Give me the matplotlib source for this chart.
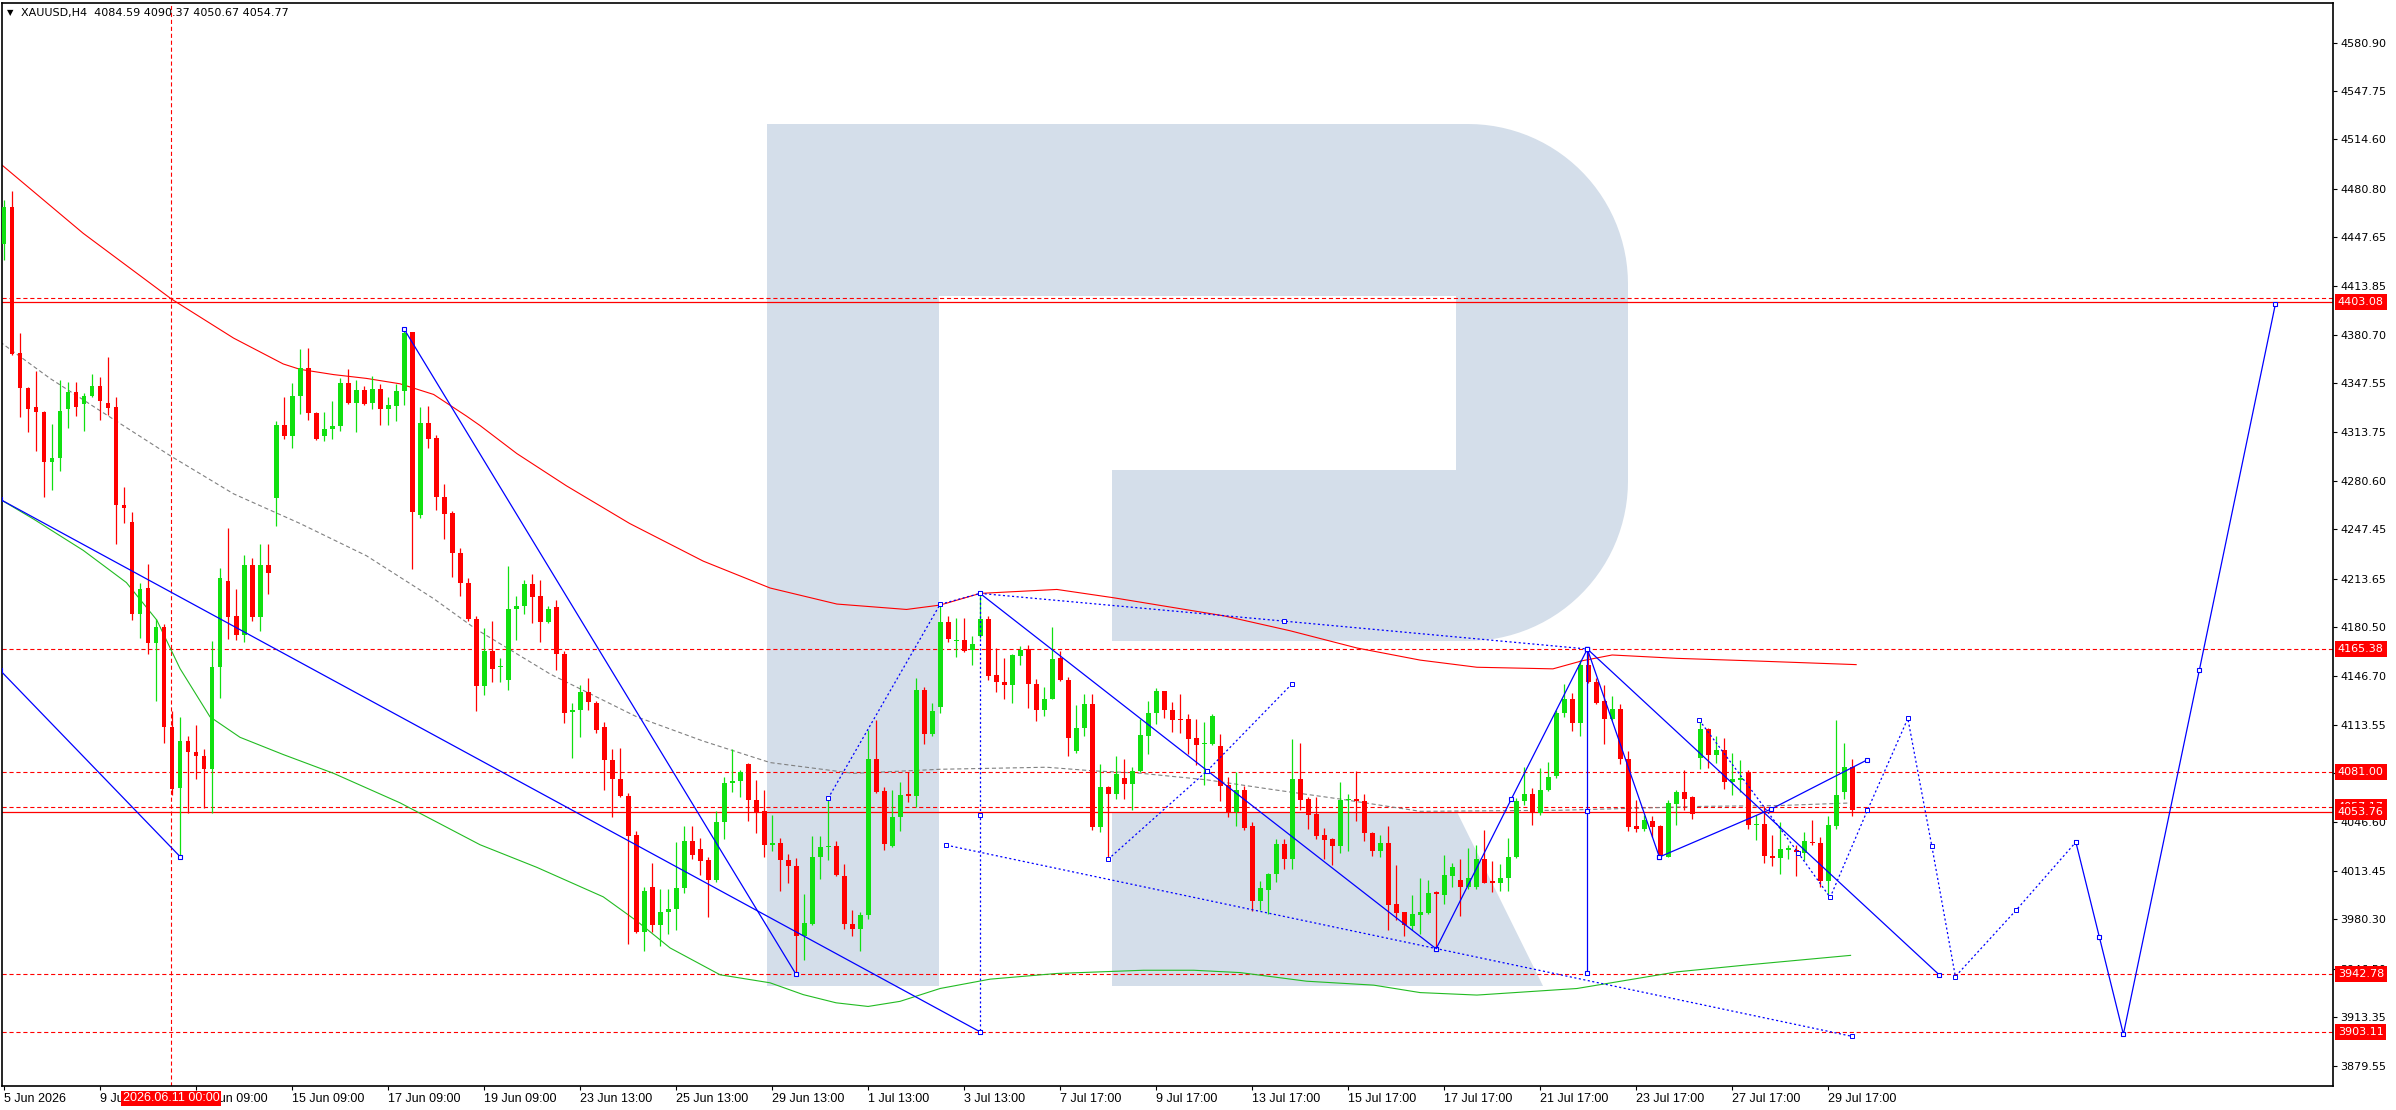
import numpy as np
import matplotlib
matplotlib.use("Agg")
import matplotlib.pyplot as plt
from matplotlib.patches import Polygon
from matplotlib.transforms import blended_transform_factory

plt.rcParams['lines.scale_dashes'] = False

# ---- H4 candles XAUUSD ----
opens = [4442.8, 4467.9, 4368.5, 4344.2, 4331.3, 4328.0, 4293.8, 4296.3, 4329.5, 4341.6,
         4333.1, 4339.0, 4345.7, 4334.2, 4331.3, 4264.3, 4252.2, 4189.6, 4207.3, 4169.7,
         4180.8, 4112.3, 4070.3, 4102.3, 4095.0, 4092.0, 4083.2, 4152.8, 4212.0, 4187.7,
         4174.9, 4223.1, 4187.0, 4222.7, 4269.1, 4318.8, 4311.4, 4339.0, 4358.2, 4326.9,
         4311.1, 4315.8, 4318.4, 4347.9, 4334.2, 4342.7, 4334.2, 4343.5, 4329.5, 4331.7,
         4342.3, 4382.8, 4256.9, 4320.3, 4310.3, 4269.8, 4258.8, 4231.2, 4210.9, 4186.3,
         4139.9, 4163.8, 4153.1, 4143.9, 4192.5, 4195.1, 4209.8, 4201.7, 4184.1, 4194.4,
         4162.3, 4121.9, 4123.3, 4136.2, 4128.1, 4112.3, 4089.5, 4076.6, 4064.4, 4037.9,
         3971.7, 4002.6, 3976.1, 3985.3, 3987.5, 4001.9, 4034.2, 4028.7, 4020.6, 4007.4,
         4047.1, 4073.6, 4074.7, 4086.9, 4061.9, 4054.5, 4031.3, 4032.4, 4020.6, 4016.6,
         3969.1, 3977.2, 4023.2, 4029.8, 4030.5, 4009.6, 3977.2, 3973.5, 3983.4, 4090.2,
         4068.1, 4030.5, 4050.1, 4066.3, 4064.8, 4137.3, 4107.1, 4125.5, 4184.1, 4171.0,
         4171.7, 4164.7, 4174.5, 4186.3, 4147.7, 4143.1, 4140.4, 4160.8, 4165.4, 4141.6,
         4123.4, 4131.3, 4159.0, 4144.5, 4095.5, 4111.4, 4127.9, 4043.3, 4070.8, 4066.0,
         4076.9, 4072.8, 4081.9, 4105.9, 4121.6, 4136.3, 4123.9, 4117.1, 4117.3, 4104.1,
         4100.0, 4100.3, 4098.9, 4072.4, 4053.8, 4068.5, 4044.0, 3993.0, 4000.2, 4011.1,
         4031.5, 4021.3, 4076.4, 4062.8, 4052.6, 4037.7, 4034.9, 4030.4, 4061.7, 4062.8,
         4061.5, 4039.5, 4027.0, 4032.2, 3990.7, 3985.0, 3975.3, 3983.2, 3984.6, 3998.6,
         3997.0, 4010.0, 4007.3, 4002.0, 4002.0, 4021.3, 4006.6, 4005.0, 4008.4, 4023.1,
         4061.5, 4066.2, 4053.1, 4068.5, 4078.5, 4121.6, 4131.3, 4114.8, 4154.7, 4143.1,
         4129.5, 4117.3, 4124.1, 4090.1, 4044.0, 4042.2, 4047.9, 4044.0, 4023.1, 4059.4,
         4067.4, 4063.7, 4091.0, 4110.5, 4092.8, 4096.2, 4074.0, 4075.8, 4080.8, 4045.1,
         4045.6, 4023.6, 4022.0, 4027.7, 4027.4, 4025.9, 4033.3, 4032.7, 4006.6, 4044.0,
         4067.1, 4084.59]
highs = [4473.0, 4478.9, 4382.1, 4345.0, 4355.6, 4328.7, 4319.5, 4349.7, 4348.6, 4348.6,
         4340.9, 4354.1, 4351.5, 4365.5, 4337.9, 4276.5, 4259.5, 4210.9, 4223.8, 4186.3,
         4182.2, 4122.6, 4118.9, 4106.0, 4113.4, 4096.8, 4171.2, 4221.2, 4248.5, 4206.5,
         4230.1, 4227.5, 4237.4, 4237.4, 4321.4, 4337.9, 4347.9, 4371.1, 4371.8, 4327.6,
         4328.0, 4335.4, 4350.8, 4357.4, 4349.7, 4345.3, 4352.7, 4347.1, 4337.9, 4347.1,
         4384.7, 4382.8, 4331.3, 4331.7, 4312.2, 4278.3, 4259.9, 4234.9, 4213.9, 4187.7,
         4179.6, 4184.4, 4159.4, 4222.0, 4201.7, 4212.8, 4216.5, 4212.8, 4195.1, 4199.2,
         4164.2, 4128.1, 4141.0, 4145.8, 4130.0, 4115.2, 4096.8, 4097.6, 4066.6, 4040.9,
         4002.2, 4018.8, 4001.1, 4001.1, 4033.5, 4044.2, 4044.2, 4036.1, 4023.2, 4054.5,
         4077.7, 4096.8, 4082.8, 4087.6, 4075.5, 4068.5, 4051.9, 4036.1, 4025.0, 4022.5,
         3997.4, 4037.2, 4037.2, 4063.0, 4034.2, 4018.4, 3986.4, 3985.3, 4109.7, 4117.1,
         4071.1, 4068.5, 4074.0, 4081.0, 4145.4, 4139.2, 4128.1, 4196.2, 4188.1, 4186.9,
         4186.9, 4174.5, 4203.5, 4188.1, 4166.1, 4159.3, 4162.0, 4167.6, 4168.3, 4144.9,
         4139.7, 4180.6, 4164.2, 4146.1, 4126.8, 4134.3, 4134.3, 4086.7, 4071.2, 4092.1,
         4089.8, 4084.8, 4117.7, 4129.5, 4138.6, 4136.8, 4129.1, 4134.8, 4120.7, 4117.7,
         4115.5, 4120.7, 4107.1, 4077.6, 4080.8, 4071.2, 4046.9, 4006.6, 4012.2, 4034.9,
         4034.9, 4103.7, 4101.2, 4064.0, 4064.0, 4042.9, 4036.1, 4074.6, 4066.0, 4081.9,
         4066.2, 4040.1, 4038.3, 4044.0, 4017.2, 3985.5, 3996.8, 4008.8, 4007.3, 3999.8,
         4024.0, 4019.0, 4021.3, 4028.8, 4030.9, 4041.3, 4020.2, 4017.9, 4036.1, 4063.3,
         4084.4, 4070.1, 4083.7, 4087.8, 4123.4, 4141.6, 4135.4, 4158.1, 4165.4, 4145.4,
         4140.9, 4132.9, 4128.0, 4095.5, 4062.2, 4051.9, 4051.3, 4044.5, 4061.7, 4069.0,
         4082.6, 4064.9, 4117.3, 4111.4, 4105.9, 4104.1, 4093.9, 4089.4, 4082.6, 4051.5,
         4057.6, 4038.3, 4047.0, 4031.1, 4030.9, 4039.9, 4048.5, 4036.5, 4051.3, 4116.6,
         4101.2, 4090.37]
lows = [4431.8, 4366.5, 4324.3, 4314.0, 4301.1, 4269.8, 4274.6, 4287.5, 4316.6, 4325.0,
        4315.1, 4337.9, 4322.5, 4325.8, 4237.4, 4251.4, 4185.2, 4173.0, 4162.3, 4130.0,
        4101.2, 4065.5, 4023.2, 4052.7, 4076.6, 4056.3, 4052.7, 4131.8, 4172.3, 4171.5,
        4170.4, 4184.4, 4177.8, 4202.8, 4249.6, 4309.2, 4303.0, 4326.2, 4322.5, 4308.5,
        4307.7, 4309.6, 4315.1, 4333.5, 4314.0, 4332.4, 4329.8, 4318.8, 4318.8, 4321.4,
        4332.4, 4220.1, 4255.1, 4303.0, 4260.6, 4241.1, 4214.6, 4201.7, 4184.4, 4122.6,
        4133.6, 4142.8, 4142.8, 4137.3, 4171.5, 4189.6, 4183.3, 4170.4, 4183.0, 4151.3,
        4114.5, 4090.6, 4105.3, 4123.3, 4107.9, 4068.5, 4050.1, 4063.7, 3963.6, 3970.5,
        3958.8, 3971.7, 3961.7, 3969.8, 3972.8, 3998.5, 4021.4, 4010.3, 3982.0, 4005.9,
        4035.4, 4067.4, 4063.7, 4047.9, 4039.0, 4023.2, 4026.9, 3999.3, 4004.8, 3942.2,
        3952.2, 3976.4, 4007.7, 4020.6, 4009.6, 3973.5, 3968.7, 3958.8, 3980.1, 4066.6,
        4028.0, 4029.8, 4040.9, 4060.8, 4057.1, 4100.5, 4106.0, 4121.5, 4170.4, 4159.7,
        4163.1, 4154.7, 4172.9, 4144.5, 4135.9, 4131.3, 4128.4, 4154.7, 4125.0, 4116.1,
        4119.3, 4130.9, 4143.8, 4092.1, 4093.9, 4105.9, 4041.3, 4039.9, 4022.9, 4062.6,
        4062.6, 4054.9, 4081.4, 4093.2, 4114.3, 4118.4, 4108.7, 4108.0, 4093.5, 4086.0,
        4072.4, 4099.6, 4061.0, 4050.1, 4044.0, 4041.7, 3986.2, 3986.6, 3983.9, 4005.9,
        4014.5, 4014.5, 4054.9, 4042.2, 4035.4, 4021.3, 4017.2, 4025.9, 4027.0, 4047.4,
        4033.8, 4023.6, 4022.9, 3973.2, 3980.0, 3969.1, 3973.2, 3970.3, 3983.9, 3960.5,
        3990.7, 4002.0, 3982.8, 4000.9, 4000.9, 4005.0, 3998.6, 3999.8, 3999.8, 4022.0,
        4058.8, 4044.7, 4051.9, 4067.8, 4076.9, 4118.9, 4109.1, 4105.9, 4142.2, 4128.0,
        4100.3, 4116.6, 4086.4, 4040.6, 4039.9, 4040.6, 4036.5, 4022.5, 4022.9, 4044.7,
        4055.4, 4049.2, 4083.3, 4084.2, 4087.1, 4069.4, 4065.1, 4067.4, 4042.4, 4034.5,
        4018.6, 4016.8, 4011.1, 4021.3, 4010.0, 4020.9, 4030.9, 4002.0, 3997.5, 4042.4,
        4062.8, 4050.67]
closes = [4467.9, 4367.4, 4344.2, 4329.5, 4327.6, 4293.8, 4296.3, 4328.7, 4341.6, 4331.3,
          4339.0, 4345.7, 4335.0, 4330.6, 4264.3, 4261.7, 4189.6, 4206.5, 4169.7, 4180.8,
          4112.3, 4069.2, 4102.3, 4095.0, 4092.0, 4083.2, 4152.8, 4213.9, 4187.0, 4174.9,
          4223.1, 4187.0, 4222.7, 4217.2, 4318.8, 4311.4, 4339.0, 4358.2, 4326.9, 4309.6,
          4315.8, 4318.4, 4347.9, 4334.2, 4342.7, 4333.1, 4343.5, 4329.5, 4332.4, 4342.3,
          4382.1, 4259.5, 4320.3, 4309.6, 4269.8, 4258.0, 4231.2, 4210.9, 4185.9, 4139.9,
          4163.8, 4152.0, 4153.9, 4192.5, 4195.1, 4209.8, 4201.0, 4184.1, 4192.5, 4162.0,
          4121.5, 4123.3, 4136.2, 4128.8, 4109.7, 4089.5, 4076.6, 4064.4, 4037.2, 3971.7,
          3999.3, 3976.1, 3985.3, 3987.5, 4001.9, 4034.2, 4024.3, 4020.3, 4007.4, 4047.1,
          4073.6, 4074.7, 4081.4, 4061.9, 4053.8, 4031.3, 4032.4, 4020.6, 4016.6, 3969.1,
          3977.9, 4023.2, 4029.8, 4030.5, 4010.3, 3977.2, 3973.5, 3983.4, 4090.2, 4067.4,
          4031.7, 4050.1, 4065.5, 4064.8, 4137.3, 4107.1, 4122.6, 4184.1, 4172.3, 4171.7,
          4164.2, 4168.8, 4186.3, 4147.2, 4142.7, 4140.4, 4161.3, 4164.9, 4141.1, 4123.4,
          4131.3, 4158.6, 4144.3, 4104.6, 4111.6, 4127.9, 4043.3, 4070.8, 4066.0, 4079.9,
          4072.8, 4081.9, 4106.4, 4121.8, 4136.3, 4123.9, 4116.6, 4116.6, 4103.7, 4099.6,
          4100.7, 4119.3, 4071.7, 4053.8, 4068.5, 4042.9, 3993.0, 4001.4, 4011.1, 4031.5,
          4021.3, 4076.4, 4062.2, 4052.0, 4037.2, 4034.5, 4030.4, 4062.2, 4062.8, 4061.0,
          4039.0, 4027.0, 4032.2, 3990.2, 3984.6, 3976.0, 3983.9, 3985.0, 3997.9, 3997.5,
          4010.4, 4016.3, 4002.0, 4008.8, 4021.3, 4005.4, 4005.4, 4008.2, 4023.1, 4061.5,
          4066.2, 4053.1, 4069.0, 4077.6, 4121.8, 4130.9, 4115.0, 4154.7, 4142.7, 4128.6,
          4117.3, 4124.1, 4089.8, 4043.3, 4042.2, 4048.5, 4043.3, 4024.0, 4059.9, 4067.4,
          4062.8, 4052.6, 4110.5, 4092.8, 4096.2, 4074.0, 4076.5, 4076.9, 4045.1, 4045.6,
          4023.6, 4022.5, 4028.1, 4028.8, 4026.3, 4033.8, 4032.2, 4006.6, 4044.5, 4065.6,
          4084.4, 4054.77]

# ---- moving averages (bar index, price) ----
red_ma_bars = [-0.5, 9.9, 20.9, 28.7, 34.9, 37.0, 41.2, 45.3, 49.5, 53.7, 57.8, 59.5, 64.1,
               70.3, 78.2, 87.4, 95.75, 104.1, 112.8, 117, 122, 131.6, 138.7, 152.5, 160.75,
               169.1, 177, 184.1, 193.6, 197.3, 201, 209.1, 217.9, 231.5]
red_ma_vals = [4498.1, 4450.2, 4405.3, 4378.4, 4360.7, 4357.0, 4353.4, 4350.8, 4347.1, 4339.8,
               4325.0, 4318.5, 4299.3, 4277.2, 4251.4, 4225.6, 4207.2, 4196.2, 4192.5, 4195.5,
               4203.5, 4206.2, 4200.5, 4188.1, 4177.9, 4166.1, 4157.8, 4152.9, 4151.8, 4157.4,
               4161.3, 4159.0, 4157.4, 4154.7]
green_ma_bars = [-0.5, 3.7, 9.9, 15.3, 19.1, 22, 25.75, 29.5, 34.9, 41.2, 49.5, 59.5, 66.6,
                 74.9, 79.1, 83.25, 89.5, 95.75, 99.9, 104, 108, 112, 117, 123.25, 131.6,
                 142.4, 148.7, 154.5, 162.8, 171.2, 177, 184.1, 196.6, 209.1, 217.4, 230.8]
green_ma_vals = [4268.0, 4254.4, 4233.0, 4210.9, 4185.2, 4152.0, 4118.9, 4104.9, 4093.1, 4080.2,
                 4060.0, 4031.3, 4015.8, 3995.6, 3979.0, 3960.6, 3942.2, 3936.7, 3928.6, 3923.0,
                 3920.5, 3924.0, 3932.8, 3939.2, 3943.1, 3945.3, 3945.3, 3943.7, 3937.8, 3935.1,
                 3930.0, 3928.3, 3932.8, 3944.2, 3948.7, 3955.5]
gray_ma_bars = [-0.5, 5.75, 12, 20.9, 28.7, 37, 45.3, 53.7, 59, 68.25, 79.1, 87.4, 95.75, 106.2,
                117, 130.3, 136.2, 142, 150.3, 158.7, 167, 177, 194.5, 212.3, 221.6, 230.75]
gray_ma_vals = [4375.8, 4350.8, 4328.7, 4297.4, 4271.7, 4251.4, 4229.3, 4199.9, 4179.0, 4148.3,
                4118.9, 4102.3, 4087.6, 4080.2, 4083.0, 4084.4, 4081.9, 4080.3, 4075.8, 4069.0,
                4062.6, 4054.2, 4054.9, 4057.6, 4058.1, 4059.9]

# ---- analyst drawings (bar index, price) ----
solid_paths = [
    ([-0.5, 122], [4268.0, 3903.11]),
    ([-0.5, 22], [4150.9, 4023.2]),
    ([50, 99], [4384.7, 3942.5]),
    ([122, 150.4, 179], [4203.5, 4082.0, 3960.0]),
    ([179, 188.4, 197.9], [3960.0, 4062.6, 4165.4]),
    ([197.9, 197.9, 197.9], [4165.4, 4054.7, 3943.1]),
    ([197.9, 206.9], [4165.4, 4022.9]),
    ([206.9, 220.9, 232.9], [4022.9, 4055.8, 4089.5]),
    ([197.9, 241.9], [4165.4, 3942.1]),
    ([258.96, 261.9, 264.9, 274.4, 283.9], [4033.1, 3968.0, 3901.5, 4151.1, 4401.7]),
]
dotted_paths = [
    ([103, 117, 122], [4063.0, 4196.0, 4203.5]),
    ([122, 160, 197.9], [4203.5, 4184.5, 4165.4]),
    ([122, 122, 122], [4203.5, 4052.0, 3903.11]),
    ([117.8, 231], [4031.0, 3900.0]),
    ([138, 150.4, 161], [4021.3, 4082.0, 4141.6]),
    ([211.9, 224.25, 228.25, 232.9, 237.96, 240.96, 243.9, 251.5, 258.96],
     [4116.6, 4025.8, 3995.2, 4054.8, 4117.8, 4030.3, 3941.0, 3986.5, 4033.1]),
]
dashed_levels = [4406.0, 4165.38, 4081.00, 4057.17, 3942.78, 3903.11]
solid_levels = [4403.08, 4053.76]
level_labels = [4403.08, 4165.38, 4081.00, 4057.17, 4053.76, 3942.78, 3903.11]
cursor_bar = 20.9
cursor_label = '2026.06.11 00:00'

yticks = [4580.90, 4547.75, 4514.60, 4480.80, 4447.65, 4413.85, 4380.70, 4347.55, 4313.75,
          4280.60, 4247.45, 4213.65, 4180.50, 4146.70, 4113.55, 4080.40, 4046.60, 4013.45,
          3980.30, 3946.50, 3913.35, 3879.55]
xtick_labels = ['5 Jun 2026', '9 Jun 09:00', '11 Jun 09:00', '15 Jun 09:00', '17 Jun 09:00',
                '19 Jun 09:00', '23 Jun 13:00', '25 Jun 13:00', '29 Jun 13:00', '1 Jul 13:00',
                '3 Jul 13:00', '7 Jul 17:00', '9 Jul 17:00', '13 Jul 17:00', '15 Jul 17:00',
                '17 Jul 17:00', '21 Jul 17:00', '23 Jul 17:00', '27 Jul 17:00', '29 Jul 17:00']
title = 'XAUUSD,H4  4084.59 4090.37 4050.67 4054.77'

# ---- figure layout (pixels of a 2396x1110 picture) ----
W, H = 2396, 1110
L_PX, R_PX, T_PX, B_PX = 2, 2333, 3, 1086

fig = plt.figure(figsize=(W / 100, H / 100), dpi=100)
ax = fig.add_axes([L_PX / W, 1 - B_PX / H, (R_PX - L_PX) / W, (B_PX - T_PX) / H])
ax.set_facecolor('white')


def px(x, y):
    return (x / W, 1 - y / H)


def corner(cx, cy, r, a0, a1):
    t = np.radians(np.linspace(a0, a1, 30))
    return [(cx + r * np.cos(a), cy + r * np.sin(a)) for a in t]


# watermark logo behind the chart
wm = '#d4deea'
stem = [(767, 124), (939, 124), (939, 986), (767, 986)]
bowl = ([(939, 124), (1468, 124)] + corner(1468, 284, 160, -90, 0)
        + corner(1468, 481, 160, 0, 90)
        + [(1112, 641), (1112, 470), (1456, 470), (1456, 296), (939, 296)])
leg = [(1112, 812), (1457, 812), (1543, 986), (1112, 986)]
for shape in (stem, bowl, leg):
    ax.add_patch(Polygon([px(a, b) for a, b in shape], closed=True, fc=wm, ec='none',
                         transform=fig.transFigure, zorder=0.5))

# levels
for lv in dashed_levels:
    ax.axhline(lv, color='#ff0000', lw=0.8, ls=(0, (3, 2)), zorder=1)
for lv in solid_levels:
    ax.axhline(lv, color='#ff0000', lw=0.9, zorder=1)
ax.axvline(cursor_bar, color='#ff0000', lw=0.8, ls=(0, (3, 2)), zorder=1)

# moving averages
ax.plot(red_ma_bars, red_ma_vals, color='#ff0000', lw=0.8, zorder=2)
ax.plot(green_ma_bars, green_ma_vals, color='#22bb22', lw=0.8, zorder=2)
ax.plot(gray_ma_bars, gray_ma_vals, color='#808080', lw=0.8, ls=(0, (3, 2)), zorder=2)

# candles
o = np.array(opens); h = np.array(highs); l = np.array(lows); c = np.array(closes)
idx = np.arange(len(o))
up = c >= o
cols = np.where(up, '#10e010', '#ff0000')
ax.vlines(idx, l, h, colors=cols, lw=0.9, zorder=3)
body_lo = np.minimum(o, c)
body_h = np.maximum(np.abs(c - o), 0.7)
ax.bar(idx, body_h, bottom=body_lo, width=0.62, color=cols, lw=0, zorder=3)

# drawings
for xs, ys in solid_paths:
    ax.plot(xs, ys, color='#0000ff', lw=0.9, zorder=4, marker='s', ms=3.5,
            mfc='white', mec='#0000ff', mew=0.8)
for xs, ys in dotted_paths:
    ax.plot(xs, ys, color='#0000ff', lw=0.9, ls=(0, (1.5, 1.8)), zorder=4, marker='s',
            ms=3, mfc='white', mec='#0000ff', mew=0.7)

ax.set_xlim(-0.25, 291.1)
ax.set_ylim(3866.0, 4608.0)

# axes styling
for sp in ax.spines.values():
    sp.set_color('black')
    sp.set_linewidth(1.2)
ax.yaxis.tick_right()
ax.set_yticks(yticks)
ax.set_yticklabels([f'{v:.2f}' for v in yticks])
ax.tick_params(axis='y', direction='out', length=3, width=0.8, pad=2, labelsize=8,
               colors='black')
ax.set_xticks(np.arange(0, 12 * len(xtick_labels), 12))
ax.set_xticklabels(xtick_labels, fontfamily='Liberation Sans', fontsize=9)
for t in ax.get_xticklabels():
    t.set_horizontalalignment('left')
ax.tick_params(axis='x', direction='out', length=3, width=0.8, pad=2)

# price boxes on the right scale
tr = blended_transform_factory(ax.transAxes, ax.transData)
for v in level_labels:
    ax.text(1.0021, v, f'{v:.2f}', transform=tr, color='white', fontsize=8,
            va='center', ha='left', zorder=10, clip_on=False,
            bbox=dict(boxstyle='square,pad=0.25', fc='#ff0000', ec='none'))

# time box under the cursor line
tr2 = blended_transform_factory(ax.transData, ax.transAxes)
ax.text(cursor_bar, -0.0115, cursor_label, transform=tr2, color='white', fontsize=9,
        fontfamily='Liberation Sans', ha='center', va='center', zorder=10, clip_on=False,
        bbox=dict(boxstyle='square,pad=0.15', fc='#ff0000', ec='none'))

# header
fig.text(*px(7, 13), '\u25bc', fontsize=6, va='center', ha='left', color='black')
fig.text(*px(21, 13), title, fontsize=8, va='center', ha='left', color='black')

fig.savefig('out.png', dpi=100)
